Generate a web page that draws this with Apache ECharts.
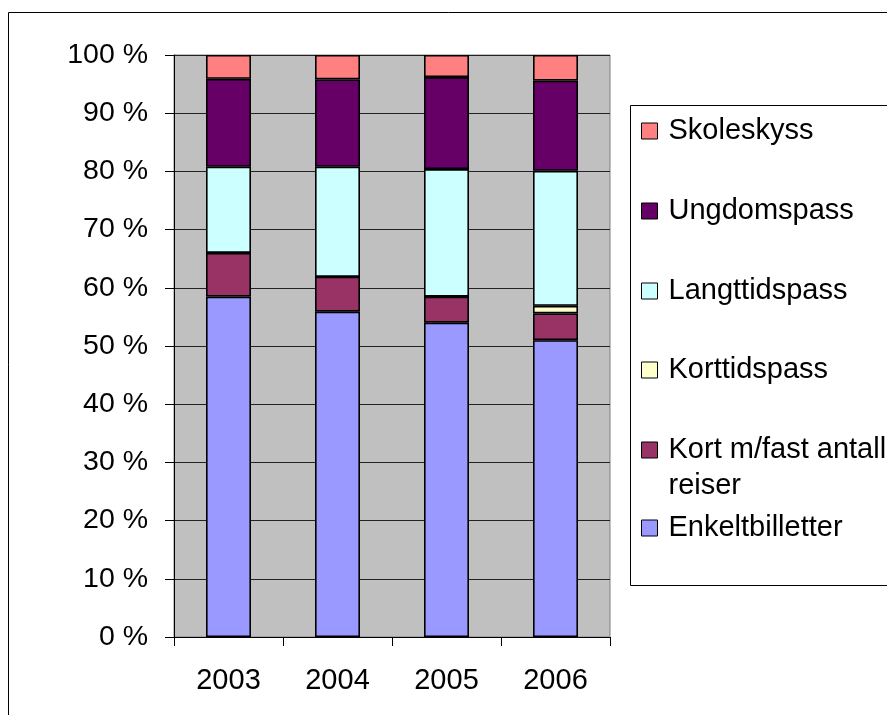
<!DOCTYPE html>
<html>
<head>
<meta charset="utf-8">
<script src="https://cdn.jsdelivr.net/npm/echarts@6/dist/echarts.min.js"></script>
<style>html,body{margin:0;padding:0;background:#fff}#c{width:887px;height:715px}</style>
</head>
<body>
<div id="c"></div>
<script>
const categories = ['2003', '2004', '2005', '2006'];
const enkeltbilletter = [58.5, 55.9, 54.0, 51.0];
const kortFastAntall = [7.5, 6.0, 4.5, 4.6];
const korttidspass = [0, 0, 0, 1.3];
const langttidspass = [14.8, 18.9, 21.9, 23.2];
const ungdomspass = [15.1, 15.0, 15.8, 15.5];
const skoleskyss = [4.1, 4.2, 3.8, 4.4];

const seriesNames = ['Enkeltbilletter', 'Kort m/fast antall reiser', 'Korttidspass', 'Langttidspass', 'Ungdomspass', 'Skoleskyss'];
const seriesData = [enkeltbilletter, kortFastAntall, korttidspass, langttidspass, ungdomspass, skoleskyss];
const colors = ['#9999FF', '#993366', '#FFFFCC', '#CCFFFF', '#660066', '#FF8080'];

const FONT = 'Liberation Sans, Arial, sans-serif';
const FS = 29;

const series = seriesNames.map((n, i) => ({
  name: n,
  type: 'bar',
  stack: 'total',
  barWidth: 45,
  data: seriesData[i],
  itemStyle: { color: colors[i], borderColor: '#000', borderWidth: 1.6 },
  emphasis: { disabled: true }
}));

const legendOrder = ['Skoleskyss', 'Ungdomspass', 'Langttidspass', 'Korttidspass', 'Kort m/fast antall reiser', 'Enkeltbilletter'];
const legendCenters = [131, 211, 291, 370, 450, 528];
const legends = legendOrder.map((n, i) => {
  const twoLine = n === 'Kort m/fast antall reiser';
  const lh = 36;
  const h = twoLine ? lh * 3 : lh;
  return {
    data: [n],
    orient: 'vertical',
    left: 641,
    top: legendCenters[i] - h / 2,
    padding: 0,
    icon: 'rect',
    itemWidth: 16,
    itemHeight: 16,
    selectedMode: false,
    formatter: twoLine ? ' \nKort m/fast antall\nreiser' : '{name}',
    itemStyle: { borderColor: '#000', borderWidth: 1 },
    textStyle: {
      fontFamily: FONT, fontSize: FS, color: '#000', lineHeight: lh,
      padding: [0, 0, 0, 6]
    }
  };
});

const chart = echarts.init(document.getElementById('c'), null, { renderer: 'canvas' });
chart.setOption({
  animation: false,
  backgroundColor: '#fff',
  graphic: [
    { type: 'rect', shape: { x: 8.5, y: 12.5, width: 900, height: 720 }, style: { fill: 'none', stroke: '#000', lineWidth: 1 }, z: 100 },
    { type: 'rect', shape: { x: 630.5, y: 105.5, width: 300, height: 480 }, style: { fill: '#fff', stroke: '#000', lineWidth: 1 }, z: -1 }
  ],
  grid: {
    left: 174, right: 277, top: 55, bottom: 78,
    show: true, backgroundColor: '#C0C0C0', borderColor: '#808080', borderWidth: 1
  },
  legend: legends,
  xAxis: {
    type: 'category',
    data: categories,
    axisLine: { lineStyle: { color: '#000', width: 1 } },
    axisTick: { show: true, length: 9, lineStyle: { color: '#000' } },
    axisLabel: { fontFamily: FONT, fontSize: FS, color: '#000', margin: 29 }
  },
  yAxis: {
    type: 'value',
    min: 0, max: 100, interval: 10,
    axisLine: { show: true, lineStyle: { color: '#000', width: 1 } },
    axisTick: { show: true, length: 9, lineStyle: { color: '#000' } },
    axisLabel: { fontFamily: FONT, fontSize: 28.5, color: '#000', margin: 26, formatter: v => v + ' %' },
    splitLine: { show: true, lineStyle: { color: '#222', width: 1 } }
  },
  series: series
});
</script>
</body>
</html>
